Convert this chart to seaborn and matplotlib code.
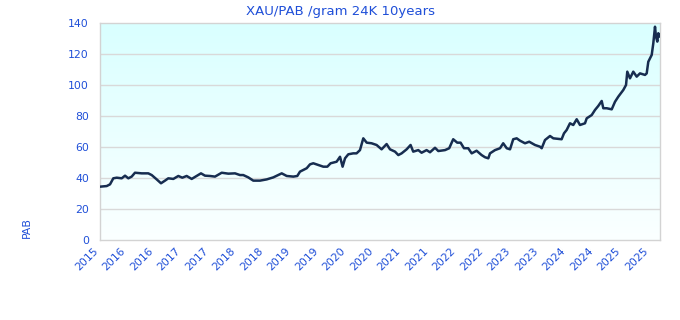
import numpy as np
import pandas as pd
import matplotlib
matplotlib.use("Agg")
import matplotlib.pyplot as plt
import seaborn as sns

# ---- data (fractional year, price per gram in PAB) ----
years = [2015.830, 2015.952, 2016.012, 2016.072, 2016.134, 2016.225, 2016.285, 2016.345, 2016.406, 2016.466,
         2016.588, 2016.708, 2016.770, 2016.861, 2016.939, 2017.012, 2017.072, 2017.163, 2017.254, 2017.326,
         2017.406, 2017.497, 2017.588, 2017.666, 2017.739, 2017.830, 2017.921, 2018.043, 2018.163, 2018.285,
         2018.375, 2018.435, 2018.526, 2018.617, 2018.739, 2018.861, 2018.981, 2019.072, 2019.134, 2019.225,
         2019.345, 2019.417, 2019.466, 2019.526, 2019.588, 2019.648, 2019.708, 2019.799, 2019.890, 2019.963,
         2020.023, 2020.132, 2020.194, 2020.241, 2020.285, 2020.345, 2020.434, 2020.495, 2020.557, 2020.617,
         2020.679, 2020.768, 2020.859, 2020.950, 2021.041, 2021.103, 2021.194, 2021.254, 2021.314, 2021.405,
         2021.477, 2021.525, 2021.617, 2021.677, 2021.768, 2021.830, 2021.921, 2021.981, 2022.103, 2022.179,
         2022.252, 2022.325, 2022.386, 2022.448, 2022.525, 2022.588, 2022.677, 2022.768, 2022.830, 2022.890,
         2022.921, 2023.012, 2023.103, 2023.161, 2023.225, 2023.285, 2023.343, 2023.406, 2023.466, 2023.557,
         2023.634, 2023.739, 2023.830, 2023.861, 2023.921, 2024.012, 2024.072, 2024.223, 2024.266, 2024.315,
         2024.375, 2024.435, 2024.497, 2024.557, 2024.648, 2024.679, 2024.770, 2024.830, 2024.890, 2024.952,
         2024.981, 2025.043, 2025.134, 2025.194, 2025.254, 2025.345, 2025.394, 2025.417, 2025.466, 2025.526,
         2025.588, 2025.648, 2025.739, 2025.770, 2025.799, 2025.861, 2025.890, 2025.921, 2025.939, 2025.963,
         2025.981, 2025.999]
price = [34.4, 34.8, 35.9, 39.8, 40.2, 39.8, 41.5, 39.8, 40.9, 43.4,
         43.0, 43.0, 41.9, 39.1, 36.6, 38.3, 39.8, 39.4, 41.3, 40.2,
         41.3, 39.4, 41.3, 43.0, 41.5, 41.3, 40.9, 43.4, 42.8, 43.0,
         41.9, 41.9, 40.4, 38.3, 38.3, 39.1, 40.4, 41.9, 43.0, 41.3,
         40.9, 41.3, 44.1, 45.2, 46.3, 48.8, 49.5, 48.4, 47.3, 47.3,
         49.5, 50.5, 53.7, 47.3, 52.7, 55.3, 55.9, 55.9, 58.0, 65.6,
         62.8, 62.4, 61.3, 58.5, 61.9, 58.5, 57.0, 54.8, 55.9, 58.5,
         61.3, 57.0, 58.0, 56.3, 58.0, 56.6, 59.5, 57.4, 58.0, 59.2,
         65.0, 62.8, 62.8, 59.2, 59.2, 55.9, 57.6, 54.8, 53.4, 52.7,
         55.9, 58.0, 59.2, 62.4, 59.2, 58.5, 65.0, 65.6, 64.1, 62.4,
         63.4, 61.3, 60.2, 59.2, 64.5, 67.1, 65.6, 65.0, 68.8, 71.0,
         75.3, 74.2, 77.9, 74.2, 75.3, 78.5, 80.6, 83.9, 86.5, 89.7,
         85.0, 85.0, 84.3, 89.2, 92.5, 96.8, 100.0, 108.6, 104.3, 108.6,
         105.4, 107.5, 106.5, 107.5, 115.0, 119.4, 126.9, 137.6, 131.2, 128.0,
         133.4, 131.2]

tick_labels = ["2015", "2016", "2016", "2017", "2017", "2018", "2018", "2019", "2019", "2020",
               "2020", "2021", "2021", "2022", "2022", "2023", "2023", "2024", "2024", "2025", "2025"]
y_ticks = [0, 20, 40, 60, 80, 100, 120, 140]

df = pd.DataFrame({"year": years, "price": price})

sns.set_theme(style="white")
plt.rcParams['font.family'] = ['DejaVu Sans']

blue = "#1f4fd8"
fig = plt.figure(figsize=(6.8, 3.2), dpi=100)
ax = fig.add_axes([100/680, 80/320, 560/680, 217/320])

x0, x1 = years[0], years[0] + 560/55
# gradient background
grad = np.linspace(0, 1, 256).reshape(-1, 1)
cmap = matplotlib.colors.LinearSegmentedColormap.from_list("bg", ["#fbffff", "#d9ffff"])
ax.imshow(grad, aspect="auto", cmap=cmap, origin="lower",
          extent=[x0, x1, 0, 140], zorder=0)

for yv in y_ticks[1:-1]:
    ax.axhline(yv, color="#d9d9d9", lw=1, zorder=1)

sns.lineplot(data=df, x="year", y="price", ax=ax, color="#172d50", lw=1.8, zorder=3)

ax.set_xlim(x0, x1)
ax.set_ylim(0, 140)
ax.set_yticks(y_ticks)
ax.set_yticklabels([str(v) for v in y_ticks], color=blue, fontsize=7.8)
ax.set_xticks([x0 + 0.5*i for i in range(len(tick_labels))])
ax.set_xticklabels(tick_labels, rotation=45, ha="right",
                   color=blue, fontsize=7.8)
ax.tick_params(axis="y", length=0, pad=8)
ax.tick_params(axis="x", length=0, pad=4)
ax.set_xlabel("")
ax.set_ylabel("")
for s in ax.spines.values():
    s.set_color("#d3d3d3")
    s.set_linewidth(1)
ax.grid(False)

fig.text(340/680, 1 - 11/320, "XAU/PAB /gram 24K 10years", color=blue, fontsize=9.5,
         ha="center", va="center")
fig.text(27/680, 1 - 228/320, "PAB", color=blue, fontsize=7.8, rotation=90,
         ha="center", va="center")

fig.savefig("out.png", dpi=100)
